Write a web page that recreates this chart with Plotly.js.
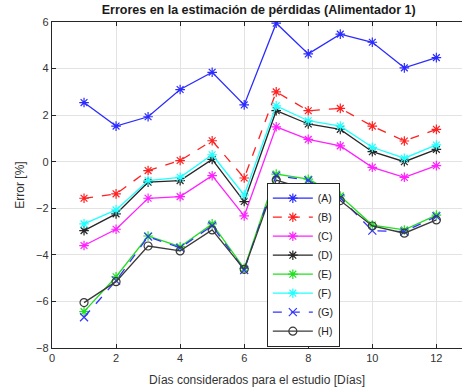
<!DOCTYPE html>
<html><head><meta charset="utf-8">
<script src="https://cdn.plot.ly/plotly-3.0.1.min.js"></script>
<style>html,body{margin:0;padding:0;background:#fff}#g{width:462px;height:391px}</style>
</head><body><div id="g"></div>
<script>
const days = [1,2,3,4,5,6,7,8,9,10,11,12];
const serA = [2.54,1.53,1.93,3.1,3.84,2.44,5.95,4.63,5.48,5.13,4.03,4.47];
const serB = [-1.57,-1.38,-0.38,0.05,0.9,-0.7,3.0,2.19,2.29,1.53,0.89,1.39];
const serC = [-3.6,-2.9,-1.57,-1.5,-0.6,-2.33,1.5,0.96,0.68,-0.24,-0.67,-0.17];
const serD = [-2.96,-2.24,-0.88,-0.81,0.1,-1.71,2.19,1.62,1.39,0.43,0.0,0.53];
const serE = [-6.44,-4.94,-3.19,-3.65,-2.67,-4.58,-0.53,-0.75,-1.47,-2.72,-2.93,-2.29];
const serF = [-2.67,-2.07,-0.81,-0.67,0.3,-1.43,2.4,1.76,1.53,0.62,0.15,0.72];
const serG = [-6.68,-5.11,-3.22,-3.7,-2.75,-4.65,-0.6,-0.8,-1.55,-2.96,-3.0,-2.35];
const serH = [-6.05,-5.15,-3.62,-3.83,-2.93,-4.62,-0.79,-1.21,-1.67,-2.76,-3.07,-2.5];
const names = ['(A)','(B)','(C)','(D)','(E)','(F)','(G)','(H)'];

const styles = [
  {c:'#2b2bff', d:'solid', s:'asterisk-open'},
  {c:'#ff2020', d:'dash', s:'asterisk-open'},
  {c:'#ff20ff', d:'solid', s:'asterisk-open'},
  {c:'#262626', d:'solid', s:'asterisk-open'},
  {c:'#20e020', d:'solid', s:'asterisk-open'},
  {c:'#20ffff', d:'solid', s:'asterisk-open'},
  {c:'#3333ff', d:'dash', s:'x-thin-open'},
  {c:'#3a3a3a', d:'solid', s:'circle-open'}
];
const all = [serA,serB,serC,serD,serE,serF,serG,serH];
const traces = all.map((ys,i)=>({
  x: days, y: ys, name: names[i], type:'scatter', mode:'lines+markers',
  line:{color:styles[i].c, width:1.3, dash:styles[i].d},
  marker:{symbol:styles[i].s, size:8, color:styles[i].c, line:{color:styles[i].c, width:1.2}}
}));

const layout = {
  width:462, height:391,
  margin:{l:52, r:0, t:22, b:43},
  paper_bgcolor:'#fff', plot_bgcolor:'#fff',
  font:{family:'Liberation Sans, Arial, sans-serif', size:11, color:'#333'},
  title:{text:'<b>Errores en la estimación de pérdidas (Alimentador 1)</b>', x:0.56, xanchor:'center', y:0.975, yanchor:'middle', font:{size:12.5, color:'#1a1a1a'}},
  xaxis:{range:[0,12.8], tickvals:[0,2,4,6,8,10,12], showgrid:true, gridcolor:'#e3e3e3', gridwidth:1,
    zeroline:false, showline:true, linecolor:'#262626', linewidth:1.2, mirror:'ticks',
    ticks:'inside', ticklen:4, tickcolor:'#262626',
    title:{text:'Días considerados para el estudio [Días]', font:{size:12, color:'#333'}, standoff:12}},
  yaxis:{range:[-8,6], tickvals:[-8,-6,-4,-2,0,2,4,6], showgrid:true, gridcolor:'#e3e3e3', gridwidth:1,
    zeroline:false, showline:true, linecolor:'#262626', linewidth:1.2, mirror:false,
    ticks:'inside', ticklen:4, tickcolor:'#262626',
    title:{text:'Error [%]', font:{size:12, color:'#333'}, standoff:8}},
  legend:{x:0.524, y:0.004, xanchor:'left', yanchor:'bottom', bgcolor:'#fff', bordercolor:'#262626', borderwidth:1,
    font:{size:10.5, color:'#222'}, tracegroupgap:0, itemwidth:40},
  showlegend:true
};
Plotly.newPlot('g', traces, layout, {displayModeBar:false, staticPlot:true});
</script></body></html>
